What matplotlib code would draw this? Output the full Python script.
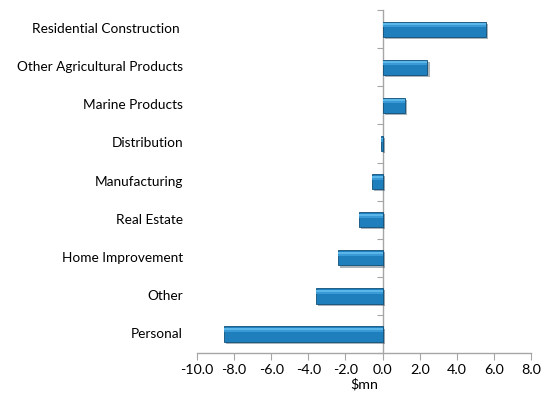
import numpy
import matplotlib
matplotlib.use("Agg")
import matplotlib.pyplot as plt
import matplotlib.patheffects as pe
from matplotlib import transforms

# Data (top to bottom as shown)
categories = ["Residential Construction", "Other Agricultural Products", "Marine Products",
              "Distribution", "Manufacturing", "Real Estate", "Home Improvement", "Other", "Personal"]
values = [5.55, 2.42, 1.22, -0.08, -0.58, -1.28, -2.41, -3.59, -8.53]
x_ticks = [-10.0, -8.0, -6.0, -4.0, -2.0, 0.0, 2.0, 4.0, 6.0, 8.0]
x_label = "$mn"

plt.rcParams['font.family'] = ['Lato', 'DejaVu Sans']

fig = plt.figure(figsize=(5.52, 4.04), dpi=100)
ax = fig.add_axes([0.357, 0.126, 0.605, 0.849])

n = len(categories)
y_pos = numpy.arange(n)[::-1]
bar_color = "#1f7fbc"
ax.barh(y_pos, values, height=0.4, color=bar_color, edgecolor="#0f4f78", linewidth=0.6,
        path_effects=[pe.SimplePatchShadow(offset=(1.5, -1.5), alpha=0.35), pe.Normal()], zorder=3)
# lighter band near the top of each bar (gradient look)
ax.barh(y_pos + 0.1, values, height=0.1, color="#3a9ad6", linewidth=0, zorder=4)
ax.barh(y_pos + 0.13, values, height=0.05, color="#5bb6ea", linewidth=0, zorder=4)

ax.set_xlim(-10, 8)
ax.set_ylim(-0.5, n - 0.5)
ax.set_xticks(x_ticks)
ax.set_xticklabels(["{0:.1f}".format(t) for t in x_ticks], fontsize=10.3)
ax.set_xlabel(x_label, fontsize=10.3, labelpad=1)

# Vertical axis drawn at zero with ticks between categories
ax.spines['left'].set_position(('data', 0))
for s in ['top', 'right']:
    ax.spines[s].set_visible(False)
for s in ['left', 'bottom']:
    ax.spines[s].set_color("#a6a6a6")
    ax.spines[s].set_linewidth(1)
ax.set_yticks(numpy.arange(-0.5, n, 1.0))
ax.set_yticklabels([])
ax.tick_params(axis='y', direction='out', length=4, color="#a6a6a6")
ax.tick_params(axis='x', direction='out', length=5, color="#a6a6a6", pad=3)

# Category labels on the far left
trans = transforms.blended_transform_factory(fig.transFigure, ax.transData)
for yy, name in zip(y_pos, categories):
    right_edge = 180 if name == "Residential Construction" else 183
    ax.text(right_edge / 552, yy, name, transform=trans, ha='right', va='center', fontsize=9.8)

fig.savefig("out.png", dpi=100)
